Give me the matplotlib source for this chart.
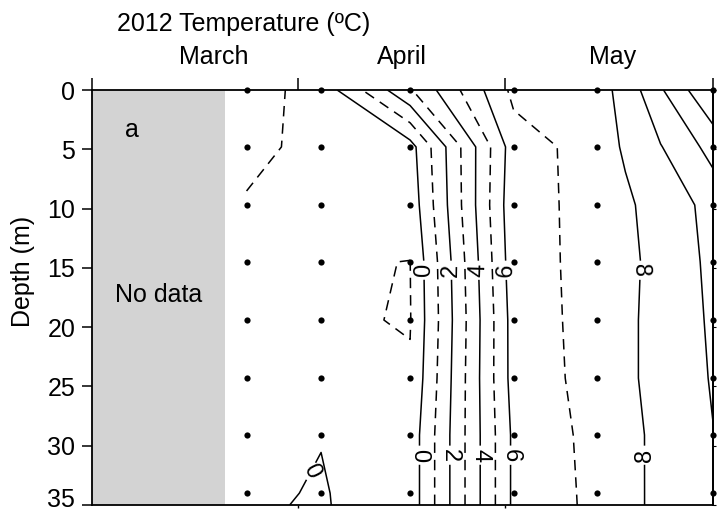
import numpy as np
import matplotlib.pyplot as plt
from matplotlib.transforms import blended_transform_factory, ScaledTranslation

plt.rcParams['font.family'] = ['Liberation Sans', 'DejaVu Sans']
plt.rcParams['lines.scale_dashes'] = False
plt.rcParams['lines.dashed_pattern'] = [7.5, 5]

# sampling stations: day of year (2012) and depth (m)
station_days = [84.5, 95.3, 108.2, 123.2, 135.3, 152.1]
sample_depths = [0, 4.8, 9.7, 14.5, 19.4, 24.3, 29.1, 34.0]

# gridded temperature (deg C), rows = depth, columns = day
grid_days = [84.5, 95.3, 108.2, 123.2, 135.3, 139.4, 144.5, 152.1]
grid_depths = [0, 4.8, 9.7, 14.5, 19.4, 24.3, 29.1, 34.0, 35.0]
temp = [
    [-1.39, -0.64,  2.90, 7.25, 7.20, 8.70, 11.76, 16.00],
    [-1.22, -0.75, -0.40, 6.54, 7.42, 8.15,  9.90, 12.70],
    [-0.93, -0.85, -0.65, 6.70, 7.25, 7.80,  8.50, 10.80],
    [-0.75, -0.94, -1.01, 6.58, 7.33, 7.75,  8.33, 10.54],
    [-0.60, -0.88, -1.05, 6.42, 7.41, 7.80,  8.34, 10.34],
    [-0.45, -0.60, -0.90, 6.40, 7.37, 7.80,  8.34, 10.17],
    [-0.30, -0.03, -0.62, 6.20, 7.32, 7.75,  8.21,  9.95],
    [-0.17,  0.07, -0.62, 6.20, 7.26, 7.70,  8.25,  9.50],
    [-0.11,  0.08, -0.62, 6.20, 7.25, 7.70,  8.25,  9.45],
]

solid_levels = [0, 2, 4, 6, 8, 10, 12, 14]
dashed_levels = [-1, 1, 3, 5, 7]
labelled_levels = [0, 2, 4, 6, 8]

x_start, x_end = 62.1, 152.1
nodata_end = 81.4
month_names = ['March', 'April', 'May']
month_centers = [79.8, 107.0, 137.5]
month_starts = [92, 122]
depth_ticks = [0, 5, 10, 15, 20, 25, 30, 35]

# where the contour labels sit (day, depth)
label_spots = [(109.9, 15.2), (114.0, 15.2), (118.3, 15.2), (122.2, 15.2), (141.5, 15.2),
               (109.8, 30.8), (114.0, 30.8), (118.3, 30.8), (122.5, 30.8), (141.9, 30.8),
               (93.3, 32.0)]

fig = plt.figure(figsize=(7.18, 5.13), dpi=100)
ax = fig.add_axes([92 / 718, 8 / 513, 621 / 718, 415 / 513])

ax.axvspan(x_start, nodata_end, color='#d3d3d3', lw=0, zorder=0)

X, Y = np.meshgrid(grid_days, grid_depths)
T = np.array(temp)
cs = ax.contour(X, Y, T, levels=solid_levels, colors='k', linewidths=1.1, linestyles='solid')
ax.contour(X, Y, T, levels=dashed_levels, colors='k', linewidths=1.1, linestyles='dashed')
cs.clabel(levels=labelled_levels, manual=label_spots, inline=True, inline_spacing=3,
          fontsize=17, fmt='%d')

SX, SY = np.meshgrid(station_days, sample_depths)
ax.scatter(SX.ravel(), SY.ravel(), s=20, c='k', zorder=5, clip_on=False, linewidths=0)

ax.set_xlim(x_start, x_end)
ax.set_ylim(35, 0)
ax.set_yticks(depth_ticks)
ax.tick_params(axis='y', direction='out', length=7, width=1.1, pad=5, labelsize=18)
ax.set_xticks(month_starts)
ax.tick_params(axis='x', direction='out', length=2.5, width=1, labelbottom=False)

# keep the bottom depth label inside the figure
last = ax.get_yticklabels()[-1]
last.set_transform(last.get_transform() + ScaledTranslation(0, 5.5 / 72, fig.dpi_scale_trans))

top = ax.secondary_xaxis('top')
top.set_xticks([x_start] + month_starts + [x_end])
top.tick_params(direction='out', length=8.5, width=1.1, labeltop=False)
top.spines['top'].set_visible(False)

right = ax.secondary_yaxis('right')
right.set_yticks(depth_ticks)
right.tick_params(direction='out', length=2.5, width=0.8, labelright=False)

for s in ax.spines.values():
    s.set_linewidth(1.3)
right.spines['right'].set_linewidth(1.3)

tr = blended_transform_factory(ax.transData, ax.transAxes)
for name, xc in zip(month_names, month_centers):
    ax.text(xc, 1.08, name, transform=tr, ha='center', va='center', fontsize=18)

ax.text(67.9, 3.4, 'a', ha='center', va='center', fontsize=18)
ax.text(71.8, 17.3, 'No data', ha='center', va='center', fontsize=18)

fig.text(244 / 718, 1 - 24 / 513, '2012 Temperature (ºC)', ha='center', va='center', fontsize=18)
fig.text(23 / 718, 1 - 271 / 513, 'Depth (m)', rotation=90, ha='center', va='center', fontsize=18)

fig.savefig('out.png', dpi=100)
